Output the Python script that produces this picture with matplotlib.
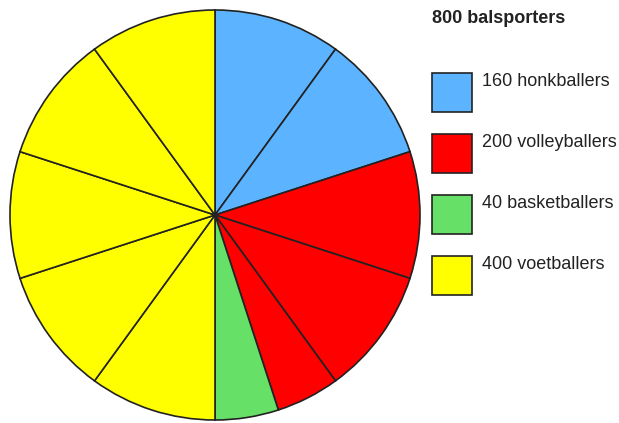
import matplotlib.pyplot as plt
from matplotlib.patches import Rectangle

plt.rcParams['font.family'] = ['Liberation Sans', 'DejaVu Sans']

# slices of the pie, clockwise from the top
slice_values = [80, 80, 80, 80, 40, 40, 80, 80, 80, 80, 80]
slice_colors = ['#5cb3ff'] * 2 + ['#ff0000'] * 3 + ['#66e066'] + ['#ffff00'] * 5

title = '800 balsporters'
labels = ['160 honkballers', '200 volleyballers', '40 basketballers', '400 voetballers']
label_colors = ['#5cb3ff', '#ff0000', '#66e066', '#ffff00']

W, H = 619, 423
fig = plt.figure(figsize=(W / 100, H / 100), dpi=100)
ax = fig.add_axes([0, 0, 1, 1])
ax.set_xlim(0, W)
ax.set_ylim(0, H)
ax.set_aspect('equal')
ax.axis('off')

ax.pie(slice_values, colors=slice_colors, startangle=90, counterclock=False,
       center=(215, H - 215), radius=205, frame=True,
       wedgeprops=dict(edgecolor='#222222', linewidth=1.2))
ax.set_xlim(0, W)
ax.set_ylim(0, H)
ax.axis('off')

ax.text(432, H - 23, title, fontsize=13, fontweight='bold', color='#222222', va='baseline')
for i, (lab, col) in enumerate(zip(labels, label_colors)):
    top = 73 + i * 61
    ax.add_patch(Rectangle((432, H - top - 39), 40, 39, facecolor=col,
                           edgecolor='#222222', linewidth=1.2))
    ax.text(482, H - top - 13, lab, fontsize=13, color='#222222', va='baseline')

fig.savefig('out.png', dpi=100)
